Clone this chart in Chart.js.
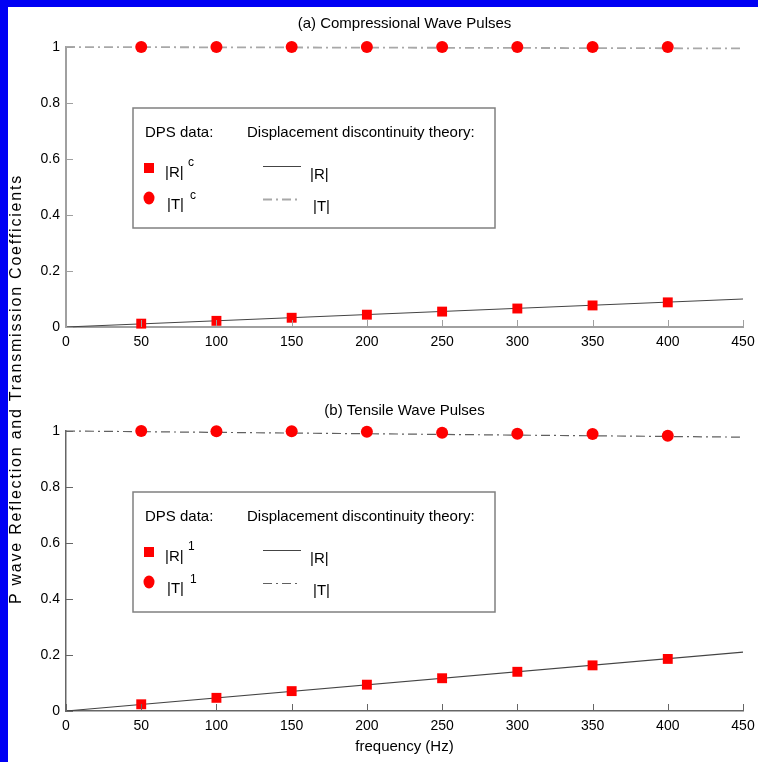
<!DOCTYPE html>
<html>
<head>
<meta charset="utf-8">
<script src="https://cdn.jsdelivr.net/npm/chart.js@4.4.0/dist/chart.umd.min.js"></script>
<style>
  html, body { margin: 0; padding: 0; }
  body { width: 758px; height: 762px; background: #0000f4; position: relative; overflow: hidden; }
  #sheet { position: absolute; left: 8px; top: 7px; width: 750px; height: 755px; background: #fff; }
  #sheet canvas { position: absolute; left: 0; }
  #top { top: 0; }
  #bottom { top: 370px; }
  #ylabel {
    position: absolute; left: -211px; top: 372px; width: 440px; height: 20px;
    line-height: 20px; text-align: center; white-space: nowrap;
    font: 16px "Liberation Sans", Arial, sans-serif; letter-spacing: 1.8px; color: #000;
    transform: rotate(-90deg); z-index: 2;
  }
</style>
</head>
<body>
<div id="sheet">
  <canvas id="top" width="750" height="370"></canvas>
  <canvas id="bottom" width="750" height="385"></canvas>
  <div id="ylabel">P wave Reflection and Transmission Coefficients</div>
</div>
<script>
// frequencies of the DPS runs and of the theory curves (Hz)
const freqs = [50, 100, 150, 200, 250, 300, 350, 400];
const theoryFreqs = [0, 450];

// (a) compressional wave pulses
const rCompDps = [0.012, 0.022, 0.033, 0.044, 0.055, 0.066, 0.077, 0.088];
const tCompDps = [1, 1, 1, 1, 1, 1, 1, 1];
const rCompTheory = [0, 0.1];
const tCompTheory = [1, 0.995];

// (b) tensile wave pulses
const rTensDps = [0.024, 0.047, 0.071, 0.094, 0.117, 0.14, 0.163, 0.186];
const tTensDps = [1, 0.999, 0.999, 0.997, 0.994, 0.99, 0.989, 0.983];
const rTensTheory = [0, 0.21];
const tTensTheory = [1, 0.978];

const FONT = '"Liberation Sans", Arial, sans-serif';
const RED = '#ff0000';
const DASHDOT = [9, 4, 2, 4];

function pts(xs, ys) {
  return xs.map((x, i) => ({ x: x, y: ys[i] }));
}

// inward ticks, panel title, x title and the boxed legend
const decor = {
  id: 'decor',
  afterDraw(chart, args, o) {
    const { ctx, chartArea: a, scales: { x, y } } = chart;
    ctx.save();

    ctx.strokeStyle = o.axisColor;
    ctx.lineWidth = 1;
    ctx.beginPath();
    x.ticks.forEach(t => {
      const px = Math.round(x.getPixelForValue(t.value)) + 0.5;
      ctx.moveTo(px, a.bottom);
      ctx.lineTo(px, a.bottom - 7);
    });
    y.ticks.forEach(t => {
      const py = Math.round(y.getPixelForValue(t.value)) + 0.5;
      ctx.moveTo(a.left, py);
      ctx.lineTo(a.left + 7, py);
    });
    ctx.stroke();

    const cx = (a.left + a.right) / 2;
    ctx.fillStyle = '#000';
    ctx.textAlign = 'center';
    ctx.textBaseline = 'middle';
    ctx.font = '15px ' + FONT;
    ctx.fillText(o.title, cx, a.top + o.titleOffset);
    if (o.xTitle) ctx.fillText(o.xTitle, cx, a.bottom + 36);

    // legend box
    const L = a.left, T = a.top;
    ctx.strokeStyle = '#808080';
    ctx.lineWidth = 1.5;
    ctx.strokeRect(L + 67, T + 61, 362, 120);

    ctx.textAlign = 'left';
    ctx.font = '15px ' + FONT;
    ctx.fillText('DPS data:', L + 79, T + 86);
    ctx.fillText('Displacement discontinuity theory:', L + 181, T + 86);

    ctx.fillStyle = RED;
    ctx.fillRect(L + 78, T + 116, 10, 10);
    ctx.beginPath();
    ctx.ellipse(L + 83, T + 151, 5.5, 6.5, 0, 0, Math.PI * 2);
    ctx.fill();

    ctx.fillStyle = '#000';
    ctx.fillText('|R|', L + 99, T + 126);
    ctx.fillText('|T|', L + 101, T + 158);
    ctx.fillText('|R|', L + 244, T + 128);
    ctx.fillText('|T|', L + 247, T + 160);
    ctx.font = '12px ' + FONT;
    ctx.fillText(o.sup, L + 122, T + 116);
    ctx.fillText(o.sup, L + 124, T + 149);

    ctx.lineWidth = 1.2;
    ctx.strokeStyle = '#444';
    ctx.beginPath();
    ctx.moveTo(L + 197, T + 119.5);
    ctx.lineTo(L + 235, T + 119.5);
    ctx.stroke();
    ctx.strokeStyle = o.tColor;
    ctx.lineWidth = o.tWidth;
    ctx.setLineDash(DASHDOT);
    ctx.beginPath();
    ctx.moveTo(L + 197, T + 152.5);
    ctx.lineTo(L + 235, T + 152.5);
    ctx.stroke();

    ctx.restore();
  }
};

function makePanel(id, cfg) {
  return new Chart(document.getElementById(id), {
    type: 'scatter',
    data: {
      datasets: [
        {
          data: pts(freqs, cfg.rDps), pointStyle: 'rect', pointRadius: 7,
          backgroundColor: RED, borderWidth: 0, clip: false
        },
        {
          data: pts(freqs, cfg.tDps), pointStyle: 'circle', pointRadius: 6,
          backgroundColor: RED, borderWidth: 0, clip: false
        },
        {
          data: pts(theoryFreqs, cfg.rTheory), showLine: true, pointRadius: 0,
          borderColor: '#444', borderWidth: 1.2, clip: false
        },
        {
          data: pts(theoryFreqs, cfg.tTheory), showLine: true, pointRadius: 0,
          borderColor: cfg.tColor, borderWidth: cfg.tWidth, borderDash: DASHDOT, clip: false
        }
      ]
    },
    options: {
      responsive: false,
      animation: false,
      events: [],
      layout: { padding: { top: cfg.top, right: 15, left: 0, bottom: 0 } },
      plugins: {
        legend: { display: false },
        tooltip: { enabled: false },
        decor: {
          title: cfg.title, titleOffset: cfg.titleOffset, xTitle: cfg.xTitle,
          sup: cfg.sup, tColor: cfg.tColor, tWidth: cfg.tWidth, axisColor: cfg.axisColor
        }
      },
      scales: {
        x: {
          type: 'linear', min: 0, max: 450,
          ticks: { stepSize: 50, color: '#000', padding: 7, font: { family: FONT, size: 14 } },
          grid: { drawOnChartArea: false, drawTicks: false },
          border: { color: cfg.axisColor, width: cfg.axisWidth },
          afterFit: s => { s.height = cfg.xHeight; s.paddingRight = 0; s.paddingLeft = 0; }
        },
        y: {
          min: 0, max: 1,
          ticks: {
            stepSize: 0.2, color: '#000', padding: 6, font: { family: FONT, size: 14 },
            callback: v => String(parseFloat(v.toFixed(2)))
          },
          grid: { drawOnChartArea: false, drawTicks: false },
          border: { color: cfg.axisColor, width: cfg.axisWidth },
          afterFit: s => { s.width = 58; }
        }
      }
    },
    plugins: [decor]
  });
}

makePanel('top', {
  title: '(a) Compressional Wave Pulses', titleOffset: -23, sup: 'c',
  rDps: rCompDps, tDps: tCompDps, rTheory: rCompTheory, tTheory: tCompTheory,
  tColor: '#a8a8a8', tWidth: 1.8, axisColor: '#a0a0a0', axisWidth: 2,
  top: 40, xHeight: 50
});

makePanel('bottom', {
  title: '(b) Tensile Wave Pulses', titleOffset: -20, sup: '1', xTitle: 'frequency (Hz)',
  rDps: rTensDps, tDps: tTensDps, rTheory: rTensTheory, tTheory: tTensTheory,
  tColor: '#606060', tWidth: 1.2, axisColor: '#666666', axisWidth: 1.5,
  top: 54, xHeight: 51
});
</script>
</body>
</html>
